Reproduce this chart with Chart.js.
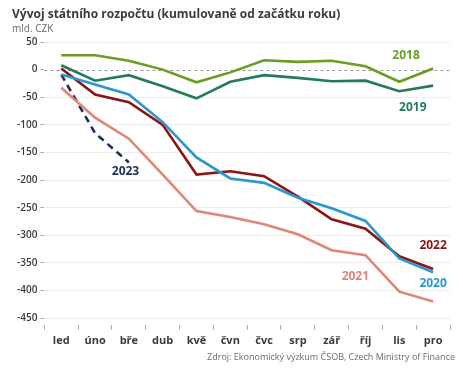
<!DOCTYPE html>
<html>
<head>
<meta charset="utf-8">
<script src="https://cdn.jsdelivr.net/npm/chart.js@4.4.1/dist/chart.umd.min.js"></script>
<style>
  html, body { margin: 0; padding: 0; background: #fff; }
  #wrap { width: 463px; height: 376px; position: relative; }
</style>
</head>
<body>
<div id="wrap"><canvas id="myChart" width="463" height="376"></canvas></div>
<script>
var months = ["led", "úno", "bře", "dub", "kvě", "čvn", "čvc", "srp", "zář", "říj", "lis", "pro"];
var yTicks = [50, 0, -50, -100, -150, -200, -250, -300, -350, -400, -450];

var y2018 = [26, 26, 16, 0, -23, -5, 17, 14, 16, 6, -22, 2];
var y2019 = [8, -20, -10, -30, -52, -22, -10, -15, -21, -20, -39, -29];
var y2020 = [-9, -27, -45, -95, -159, -197, -205, -232, -251, -274, -342, -367];
var y2021 = [-33, -87, -125, -190, -256, -267, -280, -298, -327, -336, -402, -420];
var y2022 = [2, -45, -59, -100, -190, -184, -193, -230, -271, -288, -338, -361];
var y2023 = [-9, -115, -168];

// series labels: [text, month index, value, colour]
var seriesLabels = [
  ["2018", 10.2, 25, "#6a9e22"],
  ["2019", 10.4, -68, "#237a5d"],
  ["2020", 11, -388, "#2b97d0"],
  ["2021", 8.7, -375, "#e0857a"],
  ["2022", 11, -318, "#8a1515"],
  ["2023", 1.9, -185, "#1d2f52"]
];

function ds(label, data, color, dash) {
  return {
    label: label,
    data: data,
    borderColor: color,
    backgroundColor: color,
    borderWidth: 2.6,
    pointRadius: 0,
    tension: 0,
    borderDash: dash || [],
    borderCapStyle: 'butt'
  };
}

var textPlugin = {
  id: 'texts',
  beforeDatasetsDraw: function(chart) {
    var c = chart.ctx, y = chart.scales.y, a = chart.chartArea;
    var zy = y.getPixelForValue(0);
    c.save();
    c.strokeStyle = '#9a9a9a';
    c.lineWidth = 1;
    c.setLineDash([3, 3]);
    c.beginPath();
    c.moveTo(a.left, Math.round(zy) + 0.5);
    c.lineTo(a.right, Math.round(zy) + 0.5);
    c.stroke();
    c.restore();
  },
  afterDraw: function(chart) {
    var c = chart.ctx, x = chart.scales.x, y = chart.scales.y;
    c.save();
    c.textBaseline = 'alphabetic';
    c.textAlign = 'left';
    c.fillStyle = '#3b3b3b';
    c.font = 'bold 12px "Open Sans"';
    c.fillText("Vývoj státního rozpočtu (kumulovaně od začátku roku)", 12, 18);
    c.fillStyle = '#6b6b6b';
    c.font = '10px "Open Sans"';
    c.fillText("mld. CZK", 12, 32);
    c.textAlign = 'right';
    c.font = '9px "Open Sans"';
    c.fillText("Zdroj: Ekonomický výzkum ČSOB, Czech Ministry of Finance", 455, 360);

    c.textAlign = 'center';
    c.textBaseline = 'middle';
    c.font = 'bold 12px "Open Sans"';
    seriesLabels.forEach(function(l) {
      c.fillStyle = l[3];
      c.fillText(l[0], x.getPixelForValue(l[1]), y.getPixelForValue(l[2]));
    });
    c.restore();
  }
};

var ctx = document.getElementById('myChart');
var chart = new Chart(ctx, {
  type: 'line',
  data: {
    labels: months,
    datasets: [
      ds("2018", y2018, "#6a9e22"),
      ds("2019", y2019, "#237a5d"),
      ds("2021", y2021, "#e0857a"),
      ds("2020", y2020, "#2b97d0"),
      ds("2022", y2022, "#8a1515"),
      ds("2023", y2023, "#1d2f52", [7, 5])
    ]
  },
  options: {
    responsive: false,
    animation: false,
    layout: { padding: { top: 42, right: 13, bottom: 25, left: 14 } },
    plugins: { legend: { display: false }, tooltip: { enabled: false } },
    scales: {
      x: {
        offset: true,
        border: { display: false },
        grid: { drawOnChartArea: false, drawTicks: true, tickLength: 5, offset: true, color: '#aaaaaa' },
        ticks: { color: '#3b3b3b', font: { family: 'Open Sans', size: 11, weight: 'bold' }, padding: 4 }
      },
      y: {
        min: -462,
        max: 50,
        afterBuildTicks: function(scale) {
          scale.ticks = yTicks.map(function(v) { return { value: v }; });
        },
        border: { display: false },
        grid: {
          color: function(c) { return c.tick && c.tick.value === 0 ? 'rgba(0,0,0,0)' : '#ececec'; },
          tickColor: '#aaaaaa',
          tickLength: 4
        },
        ticks: { color: '#3b3b3b', font: { family: 'Open Sans', size: 10, weight: '600' }, padding: 3 }
      }
    }
  },
  plugins: [textPlugin]
});
</script>
</body>
</html>
